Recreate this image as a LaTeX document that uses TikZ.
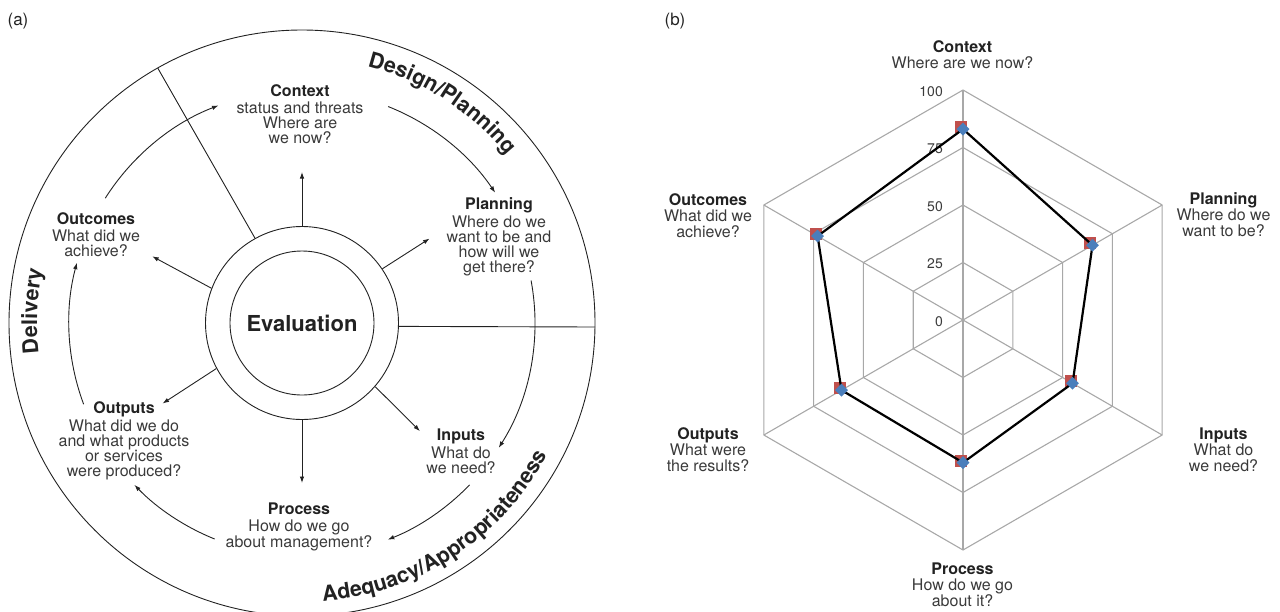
\documentclass[tikz,border=0pt]{standalone}
\usepackage{fontspec}
\setmainfont{TeX Gyre Heros}
\usetikzlibrary{arrows.meta,calc,decorations.text,shapes.geometric}
\definecolor{ink}{HTML}{222222}
\definecolor{soft}{HTML}{3A3A3A}
\definecolor{gridg}{HTML}{A8A8A8}
\definecolor{sqred}{HTML}{C0504D}
\definecolor{dmblue}{HTML}{4A7EBB}
\begin{document}
\begin{tikzpicture}[x=1pt,y=1pt,
  lbl/.style={align=center, text=soft, font=\fontsize{16}{15}\selectfont, inner sep=0},
  rlbl/.style={align=center, text=soft, font=\fontsize{16}{16}\selectfont, inner sep=0},
  arr/.style={draw=ink, line width=0.9pt, -{Latex[length=6.5pt,width=4.5pt]}},
  thin/.style={draw=ink, line width=0.9pt},
  gridl/.style={draw=gridg, line width=1.1pt},
  val/.style={text=soft, font=\fontsize{14}{14}\selectfont, inner sep=0, anchor=east},
  sq/.style={rectangle, fill=sqred, minimum size=12pt, inner sep=0},
  dm/.style={diamond, fill=dmblue, minimum size=13pt, inner sep=0},
  arctext/.style={decorate, decoration={text along path, text align=center, text color=ink}}
]
\useasboundingbox (0,0) rectangle (1280,-611);

% ---------------- panel (a) ----------------
\node[font=\fontsize{17}{17}\selectfont, text=ink, inner sep=0] (la) at (18,-21) {(a)};
\coordinate (C) at (302,-323);
\node[circle, thin, minimum size=586pt, inner sep=0] (outer) at (C) {};
\node[circle, thin, minimum size=193pt, inner sep=0] (ring) at (C) {};
\node[circle, thin, minimum size=144pt, inner sep=0, font=\bfseries\fontsize{22}{22}\selectfont, text=ink] (eval) at (C) {Evaluation};

% dividers
\coordinate (d1) at ($(C)+(119.5:293)$);
\draw[thin] (ring.119.5) -- (d1);
\coordinate (d2) at (595,-327);
\draw[thin] (ring.-2.4) -- (d2);

% stage labels
\node[lbl] (ctx) at (300,-114.5) {\textbf{\color{ink}Context}\\[2pt]status and threats\\Where are\\we now?};
\node[lbl] (plan) at (499,-236.5) {\textbf{\color{ink}Planning}\\[2pt]Where do we\\want to be and\\how will we\\get there?};
\node[lbl] (inp) at (461,-451) {\textbf{\color{ink}Inputs}\\[2pt]What do\\we need?};
\node[lbl] (proc) at (299,-527) {\textbf{\color{ink}Process}\\[2pt]How do we go\\about management?};
\node[lbl] (outp) at (124,-441) {\textbf{\color{ink}Outputs}\\[2pt]What did we do\\and what products\\or services\\were produced?};
\node[lbl] (outc) at (96,-235) {\textbf{\color{ink}Outcomes}\\[2pt]What did we\\achieve?};

% radial arrows
\coordinate (t1) at ($(C)+(90:151)$);
\coordinate (t2) at ($(C)+(33.5:153)$);
\coordinate (t3) at ($(C)+(-42.5:160)$);
\coordinate (t4) at ($(C)+(-90:160)$);
\coordinate (t5) at ($(C)+(-150:161)$);
\coordinate (t6) at ($(C)+(156:164)$);
\draw[arr] (ring.90) -- (t1);
\draw[arr] (ring.34.8) -- (t2);
\draw[arr] (ring.-41.7) -- (t3);
\draw[arr] (ring.-90) -- (t4);
\draw[arr] (ring.-152.9) -- (t5);
\draw[arr] (ring.159.7) -- (t6);

% cycle arcs
\coordinate (a1) at ($(C)+(68.3:233)$);
\coordinate (a2) at ($(C)+(10.5:233)$);
\coordinate (a3) at ($(C)+(-44:233)$);
\coordinate (a4) at ($(C)+(-112:233)$);
\coordinate (a5) at ($(C)+(-159.6:233)$);
\coordinate (a6) at ($(C)+(147.6:233)$);
\draw[arr] (a1) arc[start angle=68.3, end angle=34, radius=233];
\draw[arr] (a2) arc[start angle=10.5, end angle=-32.4, radius=233];
\draw[arr] (a3) arc[start angle=-44, end angle=-68.4, radius=233];
\draw[arr] (a4) arc[start angle=-112, end angle=-136, radius=233];
\draw[arr] (a5) arc[start angle=-159.6, end angle=-195, radius=233];
\draw[arr] (a6) arc[start angle=147.6, end angle=111, radius=233];

% curved outer labels
\path[arctext, decoration={text={|\bfseries\fontsize{21.5}{21.5}\selectfont|Design/Planning}}]
  ([shift={(86:265)}]C) arc[start angle=86, end angle=29, radius=265];
\path[arctext, decoration={text={|\bfseries\fontsize{21.5}{21.5}\selectfont|Delivery}}]
  ([shift={(200:265)}]C) arc[start angle=200, end angle=155, radius=265];
\path[arctext, decoration={text={|\bfseries\fontsize{21.5}{21.5}\selectfont|Adequacy/Appropriateness}}]
  ([shift={(-98:279)}]C) arc[start angle=-98, end angle=-16, radius=279];

% ---------------- panel (b) ----------------
\node[font=\fontsize{17}{17}\selectfont, text=ink, inner sep=0] (lb) at (675,-21) {(b)};
\coordinate (R0) at (963,-320);
\foreach \r in {57.5,115,172.5,230}
  \draw[gridl, shift={(963,-320)}] (90:\r) -- (30:\r) -- (-30:\r) -- (-90:\r) -- (-150:\r) -- (150:\r) -- cycle;
\foreach \a [count=\i] in {90,30,-30,-90,-150,150} {
  \coordinate (s\i) at ($(R0)+(\a:230)$);
  \draw[gridl] (R0) -- (s\i);
}

\node[val] (v100) at (943,-92) {100};
\node[val] (v75) at (943,-149) {75};
\node[val] (v50) at (943,-207) {50};
\node[val] (v25) at (943,-264) {25};
\node[val] (v0) at (943,-322) {0};

\coordinate (pC) at ($(R0)+(90:190.9)$);
\coordinate (pP) at ($(R0)+(30:149.5)$);
\coordinate (pI) at ($(R0)+(-30:126.5)$);
\coordinate (pR) at ($(R0)+(-90:142.6)$);
\coordinate (pO) at ($(R0)+(-150:140.3)$);
\coordinate (pU) at ($(R0)+(150:167.9)$);

\foreach \p in {pC,pP,pI,pR,pO,pU}
  \node[sq] (sq\p) at ([shift={(-2,2)}]\p) {};
\draw[line width=2.2pt, black, line join=round] (pC) -- (pP) -- (pI) -- (pR) -- (pO) -- (pU) -- cycle;
\foreach \p in {pC,pP,pI,pR,pO,pU}
  \node[dm] (dm\p) at (\p) {};

\node[rlbl] (rc) at (962.5,-55) {\textbf{\color{ink}Context}\\Where are we now?};
\node[rlbl] (rp) at (1223.5,-215) {\textbf{\color{ink}Planning}\\Where do we\\want to be?};
\node[rlbl] (ri) at (1223.5,-450) {\textbf{\color{ink}Inputs}\\What do\\we need?};
\node[rlbl] (rr) at (962.5,-585) {\textbf{\color{ink}Process}\\How do we go\\about it?};
\node[rlbl] (ro) at (708,-450) {\textbf{\color{ink}Outputs}\\What were\\the results?};
\node[rlbl] (ru) at (708,-216) {\textbf{\color{ink}Outcomes}\\What did we\\achieve?};
\end{tikzpicture}
\end{document}
